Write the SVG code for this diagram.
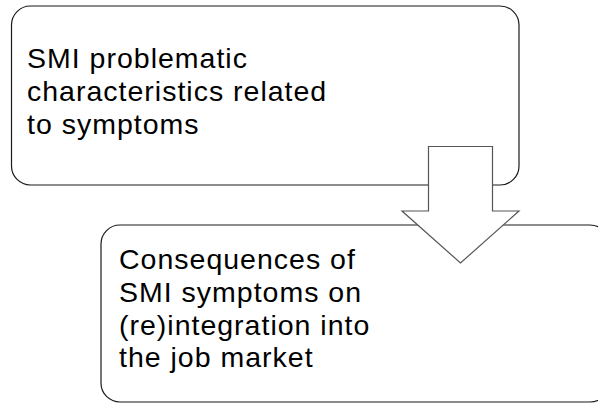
<svg xmlns="http://www.w3.org/2000/svg" width="598" height="403" viewBox="0 0 598 403">
  <style>
    .box { fill: #ffffff; stroke: #1a1a1a; stroke-width: 1.2; }
    .label { font-family: "Liberation Sans", Arial, sans-serif; font-size: 28.5px; letter-spacing: 1px; fill: #000000; }
    .arrow { fill: #ffffff; stroke: #555555; stroke-width: 1.2; stroke-linejoin: miter; }
  </style>
  <rect width="598" height="403" fill="#ffffff"/>
  <g id="node-symptoms">
    <rect class="box" x="11.5" y="6" width="507.5" height="179" rx="19" ry="19"/>
    <text class="label" x="27" y="68">
      <tspan x="27" y="68">SMI problematic</tspan>
      <tspan x="27" y="101">characteristics related</tspan>
      <tspan x="27" y="134">to symptoms</tspan>
    </text>
  </g>
  <g id="node-consequences">
    <rect class="box" x="101" y="225" width="508" height="177" rx="19" ry="19"/>
    <text class="label" x="119" y="269">
      <tspan x="119" y="269">Consequences of</tspan>
      <tspan x="119" y="302">SMI symptoms on</tspan>
      <tspan x="119" y="334.5">(re)integration into</tspan>
      <tspan x="119" y="367">the job market</tspan>
    </text>
  </g>
  <g id="connectors">
    <polygon class="arrow" points="428.5,146.5 492.5,146.5 492.5,211 519,211 460.5,263 402,211 428.5,211"/>
  </g>
</svg>
